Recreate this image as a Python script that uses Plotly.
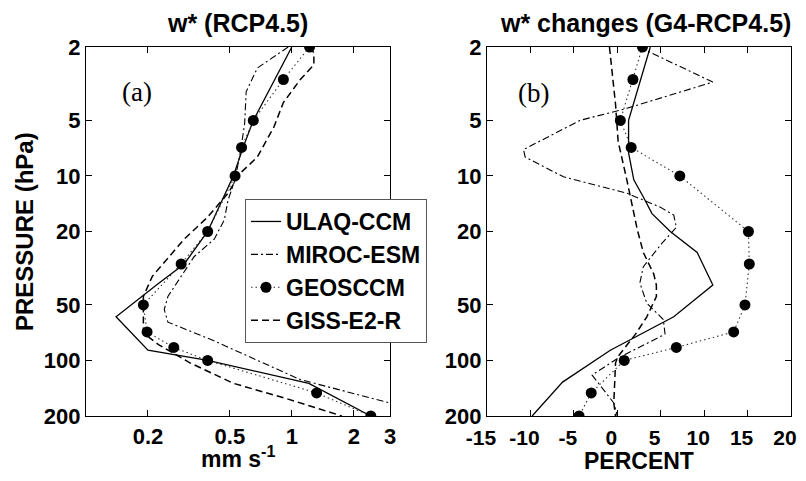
import numpy as np
import plotly.graph_objects as go

# ---------------- data ----------------
# Panel (a): w* (RCP4.5), mm/s
ulaq_a_p = [2, 5, 7, 10, 20, 30, 39, 58, 88, 100, 133, 200]
ulaq_a_w = [1.0, 0.65, 0.58, 0.52, 0.39, 0.30, 0.22, 0.14, 0.20, 0.39, 1.21, 2.42]

miroc_a_p = [2, 2.6, 3.5, 5.2, 7.2, 10.5, 13.5, 17.3, 22, 27.4, 45, 53, 62, 77, 127, 170, 200]
miroc_a_w = [0.96, 0.68, 0.60, 0.59, 0.565, 0.53, 0.49, 0.47, 0.42, 0.335, 0.25, 0.24, 0.25, 0.405, 1.1, 3.0, 4.6]

geos_p = [2, 3, 5, 7, 10, 20, 30, 50, 70, 85, 100, 150, 200]
geos_a_w = [1.22, 0.91, 0.65, 0.57, 0.53, 0.39, 0.29, 0.19, 0.198, 0.267, 0.39, 1.32, 2.42]

giss_a_p = [2, 2.15, 2.5, 3, 4, 5.4, 7.9, 9.6, 12.4, 16.7, 22, 28, 35, 45, 58, 71, 82, 103, 133, 162, 200]
giss_a_w = [1.22, 1.28, 1.28, 1.1, 0.91, 0.82, 0.68, 0.565, 0.49, 0.39, 0.30, 0.25, 0.21, 0.19, 0.19, 0.19,
            0.225, 0.32, 0.52, 0.96, 1.75]

# Panel (b): w* changes (G4-RCP4.5), percent
ulaq_b_p = [2, 4.1, 5, 7.5, 10.5, 13, 16, 20, 26, 39, 58, 88, 131, 200]
ulaq_b_v = [3.8, 1.9, 1.3, 1.3, 1.9, 3.0, 4.0, 6.1, 9.2, 11.0, 6.5, -0.8, -6.3, -9.8]

miroc_b_p = [2, 3.1, 4.3, 5, 7.2, 7.9, 10.1, 12.4, 14.8, 16.3, 19, 23, 31, 38, 49, 60, 72, 97, 120, 170, 200]
miroc_b_v = [2.5, 11.0, 1.1, -4.3, -10.8, -10.6, -6.2, 1.1, 5.0, 6.5, 6.8, 5.2, 3.0, 2.6, 3.4, 5.3, 5.5,
             0.1, -2.9, -0.4, 0.0]

geos_b_v = [2.9, 1.8, 0.35, 1.6, 7.2, 15.1, 15.2, 14.7, 13.4, 6.8, 0.8, -3.0, -4.4]

giss_b_p = [2, 4.1, 6.5, 10.5, 19.5, 26, 34, 39, 45, 58, 72, 95, 103, 170, 200]
giss_b_v = [-0.9, -0.2, 0.1, 1.1, 2.3, 3.0, 4.2, 4.5, 4.5, 3.4, 2.1, 0.1, -0.2, -0.4, -0.2]

p_ticks = [2, 5, 10, 20, 50, 100, 200]
w_ticks = [0.2, 0.5, 1, 2, 3]
pct_ticks = [-15, -10, -5, 0, 5, 10, 15, 20]

names = ["ULAQ-CCM", "MIROC-ESM", "GEOSCCM", "GISS-E2-R"]

# ---------------- figure ----------------
OFF = 8  # page body margin of the html page
W, H = 806 - 2 * OFF, 481 - 2 * OFF
FONT = "Liberation Sans, Arial, sans-serif"


def fx(px):
    return (px - OFF) / W


def fy(py):
    return 1 - (py - OFF) / H


styles = {
    "ULAQ-CCM": dict(color="black", width=1.3, dash="solid"),
    "MIROC-ESM": dict(color="black", width=1.1, dash="7px,3px,2px,3px"),
    "GEOSCCM": dict(color="#333333", width=1.1, dash="1.5px,3px"),
    "GISS-E2-R": dict(color="black", width=1.5, dash="7px,4px"),
}

fig = go.Figure()

panel_a = [(ulaq_a_w, ulaq_a_p), (miroc_a_w, miroc_a_p), (geos_a_w, geos_p), (giss_a_w, giss_a_p)]
panel_b = [(ulaq_b_v, ulaq_b_p), (miroc_b_v, miroc_b_p), (geos_b_v, geos_p), (giss_b_v, giss_b_p)]

for i, name in enumerate(names):
    mode = "lines+markers" if name == "GEOSCCM" else "lines"
    x, y = panel_a[i]
    fig.add_trace(go.Scatter(
        x=x, y=y, mode=mode, name=name, legendgroup=name,
        line=styles[name], marker=dict(size=11, color="black"),
        xaxis="x", yaxis="y", showlegend=True, cliponaxis=True))
for i, name in enumerate(names):
    mode = "lines+markers" if name == "GEOSCCM" else "lines"
    x, y = panel_b[i]
    fig.add_trace(go.Scatter(
        x=x, y=y, mode=mode, name=name, legendgroup=name,
        line=styles[name], marker=dict(size=11, color="black"),
        xaxis="x2", yaxis="y2", showlegend=False, cliponaxis=True))

x1d = [fx(86), fx(390)]
x2d = [fx(487), fx(791)]
yd = [fy(416), fy(47)]

tickfont = dict(family=FONT, size=22, color="black", weight="bold")
common_axis = dict(showline=True, linecolor="black", linewidth=1.2, mirror="ticks",
                   ticks="inside", ticklen=6, tickcolor="black", tickwidth=1,
                   showgrid=False, zeroline=False, automargin=False,
                   ticklabeloverflow="allow")

fig.update_layout(
    width=W, height=H,
    margin=dict(l=0, r=0, t=0, b=0, autoexpand=False),
    paper_bgcolor="white", plot_bgcolor="white",
    font=dict(family=FONT, color="black"),
    xaxis=dict(domain=x1d, type="log", range=[np.log10(0.1), np.log10(3)],
               tickvals=w_ticks, ticktext=[str(v) for v in w_ticks], anchor="y",
               tickfont=tickfont, **common_axis),
    yaxis=dict(domain=yd, type="log", range=[np.log10(200), np.log10(2)],
               tickvals=p_ticks, ticktext=[str(v) for v in p_ticks], anchor="x",
               tickfont=tickfont, **common_axis),
    xaxis2=dict(domain=x2d, range=[-15, 20], tickvals=pct_ticks,
                ticktext=[str(v) for v in pct_ticks], anchor="y2", ticklabelshift=-6,
                ticklabelstandoff=3,
                tickfont=dict(family=FONT, size=21, color="black", weight="bold"),
                **common_axis),
    yaxis2=dict(domain=yd, type="log", range=[np.log10(200), np.log10(2)],
                tickvals=p_ticks, ticktext=[str(v) for v in p_ticks], anchor="x2",
                tickfont=tickfont, **common_axis),
    showlegend=True,
    legend=dict(x=fx(245), y=fy(199), xanchor="left", yanchor="top",
                bgcolor="white", bordercolor="#555555", borderwidth=1,
                font=dict(family=FONT, size=23, color="black", weight="bold"),
                tracegroupgap=8, itemwidth=30, traceorder="normal"),
)

ann_font = dict(family=FONT, size=25, color="black", weight="bold")
fig.add_annotation(x=fx(237), y=fy(23), xref="paper", yref="paper", text="w* (RCP4.5)",
                   showarrow=False, font=ann_font, xanchor="center", yanchor="middle")
fig.add_annotation(x=fx(645), y=fy(23), xref="paper", yref="paper", text="w* changes (G4-RCP4.5)",
                   showarrow=False, font=ann_font, xanchor="center", yanchor="middle")
lab_font = dict(family=FONT, size=23, color="black", weight="bold")
fig.add_annotation(x=fx(238), y=fy(457), xref="paper", yref="paper", text="mm s<sup>-1</sup>",
                   showarrow=False, font=lab_font, xanchor="center", yanchor="middle")
fig.add_annotation(x=fx(639), y=fy(461), xref="paper", yref="paper", text="PERCENT",
                   showarrow=False, font=lab_font, xanchor="center", yanchor="middle")
fig.add_annotation(x=fx(24), y=fy(232), xref="paper", yref="paper", text="PRESSURE (hPa)",
                   showarrow=False, font=dict(family=FONT, size=24, color="black", weight="bold"),
                   textangle=-90, xanchor="center", yanchor="middle")

serif = dict(family="Liberation Serif, DejaVu Serif, serif", size=27, color="black")
fig.add_annotation(x=fx(137), y=fy(92), xref="paper", yref="paper", text="(a)",
                   showarrow=False, font=serif, xanchor="center", yanchor="middle")
fig.add_annotation(x=fx(533), y=fy(93), xref="paper", yref="paper", text="(b)",
                   showarrow=False, font=serif, xanchor="center", yanchor="middle")

fig.write_html("out.html")
